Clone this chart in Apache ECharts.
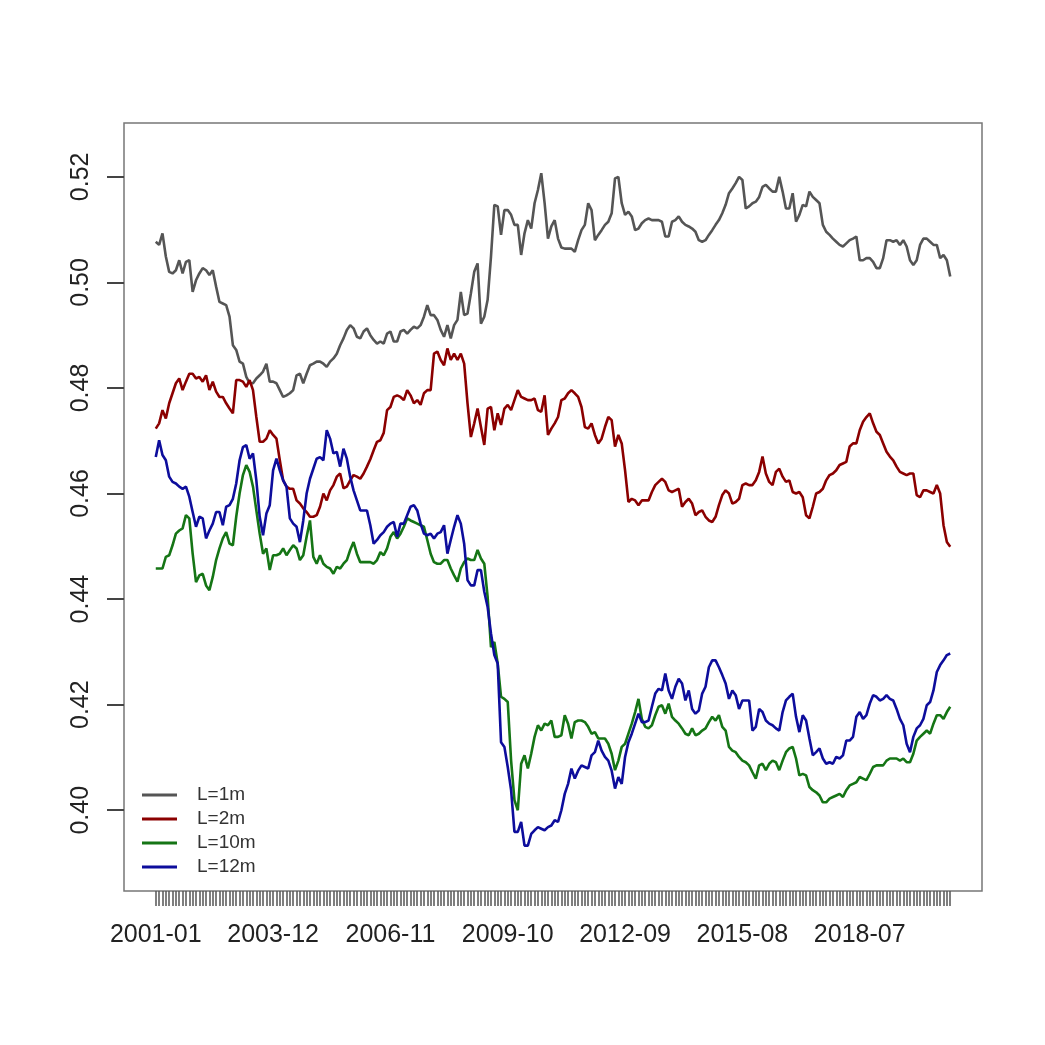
<!DOCTYPE html>
<html>
<head>
<meta charset="utf-8">
<script src="https://cdn.jsdelivr.net/npm/echarts@6/dist/echarts.min.js"></script>
<style>
html,body{margin:0;padding:0;background:#fff;}
#chart{width:1045px;height:1045px;}
</style>
</head>
<body>
<div id="chart"></div>
<script>
// Monthly categories 2001-01 .. 2020-10
const months = [];
for (let y = 2001; y <= 2020; y++) {
  for (let mo = 1; mo <= 12; mo++) {
    if (y === 2020 && mo > 10) break;
    months.push(y + '-' + (mo < 10 ? '0' + mo : '' + mo));
  }
}
const xTickLabels = ['2001-01','2003-12','2006-11','2009-10','2012-09','2015-08','2018-07'];
const yTickValues = [0.40, 0.42, 0.44, 0.46, 0.48, 0.50, 0.52];
const seriesNames = ['L=1m','L=2m','L=10m','L=12m'];

const L1 = [
.5077,.5071,.5093,.5049,.5020,.5017,.5023,.5042,.5017,.5039,
.5042,.4982,.5004,.5017,.5027,.5023,.5014,.5023,.4992,.4963,
.4960,.4957,.4935,.4881,.4872,.4850,.4846,.4821,.4809,.4809,
.4818,.4824,.4831,.4846,.4812,.4812,.4809,.4796,.4783,.4786,
.4790,.4796,.4824,.4827,.4809,.4827,.4843,.4846,.4850,.4850,
.4846,.4840,.4850,.4856,.4865,.4881,.4894,.4910,.4919,.4913,
.4897,.4894,.4907,.4913,.4900,.4891,.4884,.4888,.4884,.4903,
.4907,.4888,.4888,.4907,.4910,.4903,.4910,.4916,.4913,.4919,
.4935,.4957,.4938,.4938,.4929,.4910,.4897,.4919,.4894,.4919,
.4929,.4982,.4938,.4941,.4979,.5020,.5036,.4922,.4935,.4967,
.5049,.5147,.5144,.5090,.5137,.5137,.5128,.5109,.5109,.5052,
.5093,.5118,.5102,.5150,.5175,.5207,.5150,.5083,.5106,.5118,
.5083,.5066,.5064,.5064,.5064,.5058,.5080,.5099,.5109,.5150,
.5137,.5080,.5090,.5099,.5109,.5115,.5131,.5197,.5200,.5150,
.5128,.5134,.5125,.5099,.5102,.5112,.5118,.5121,.5118,.5118,
.5118,.5115,.5087,.5087,.5115,.5118,.5125,.5115,.5109,.5106,
.5102,.5096,.5080,.5077,.5080,.5090,.5099,.5109,.5118,.5131,
.5147,.5169,.5178,.5188,.5200,.5194,.5140,.5144,.5150,.5153,
.5162,.5181,.5185,.5178,.5172,.5172,.5200,.5172,.5140,.5140,
.5169,.5115,.5128,.5147,.5144,.5172,.5162,.5156,.5150,.5109,
.5096,.5090,.5083,.5077,.5071,.5068,.5074,.5080,.5083,.5087,
.5042,.5042,.5046,.5046,.5039,.5027,.5027,.5046,.5080,.5080,
.5077,.5080,.5071,.5080,.5068,.5042,.5033,.5042,.5071,.5083,
.5083,.5077,.5071,.5071,.5046,.5052,.5042,.5011
];
const L2 = [
.4723,.4733,.4758,.4742,.4771,.4790,.4809,.4818,.4796,.4812,
.4827,.4827,.4818,.4821,.4812,.4824,.4796,.4812,.4793,.4783,
.4783,.4771,.4761,.4752,.4815,.4815,.4812,.4802,.4815,.4796,
.4745,.4698,.4698,.4704,.4720,.4711,.4704,.4663,.4625,.4613,
.4609,.4609,.4587,.4581,.4572,.4565,.4556,.4556,.4559,.4575,
.4600,.4587,.4606,.4616,.4632,.4638,.4610,.4613,.4625,.4635,
.4632,.4628,.4638,.4651,.4665,.4682,.4698,.4701,.4715,.4758,
.4764,.4783,.4786,.4783,.4777,.4796,.4786,.4771,.4777,.4768,
.4790,.4796,.4796,.4865,.4869,.4853,.4843,.4875,.4853,.4865,
.4853,.4865,.4846,.4771,.4707,.4733,.4761,.4726,.4692,.4761,
.4764,.4720,.4752,.4730,.4761,.4768,.4758,.4777,.4796,.4783,
.4780,.4777,.4777,.4780,.4758,.4755,.4786,.4711,.4723,.4733,
.4745,.4777,.4780,.4790,.4796,.4790,.4783,.4764,.4726,.4723,
.4733,.4711,.4695,.4704,.4726,.4745,.4739,.4689,.4711,.4695,
.4644,.4584,.4590,.4587,.4578,.4587,.4587,.4587,.4603,.4616,
.4622,.4628,.4622,.4606,.4603,.4606,.4609,.4575,.4584,.4590,
.4581,.4559,.4565,.4568,.4556,.4549,.4546,.4556,.4578,.4597,
.4606,.4600,.4581,.4584,.4590,.4616,.4619,.4616,.4616,.4625,
.4641,.4670,.4638,.4622,.4616,.4641,.4647,.4632,.4622,.4625,
.4603,.4600,.4603,.4593,.4559,.4553,.4575,.4600,.4603,.4609,
.4625,.4635,.4638,.4644,.4654,.4657,.4660,.4689,.4695,.4695,
.4720,.4736,.4745,.4752,.4733,.4717,.4711,.4695,.4679,.4670,
.4663,.4651,.4641,.4638,.4635,.4638,.4638,.4597,.4593,.4606,
.4606,.4603,.4600,.4616,.4600,.4540,.4508,.4499
];
const L10 = [
.4458,.4458,.4458,.4480,.4483,.4502,.4524,.4530,.4534,.4559,
.4553,.4486,.4432,.4445,.4448,.4426,.4417,.4442,.4474,.4496,
.4515,.4527,.4505,.4502,.4556,.4600,.4635,.4654,.4641,.4613,
.4568,.4524,.4486,.4496,.4455,.4483,.4483,.4486,.4496,.4483,
.4493,.4502,.4496,.4474,.4483,.4518,.4549,.4480,.4467,.4483,
.4467,.4461,.4458,.4448,.4461,.4458,.4467,.4474,.4493,.4508,
.4486,.4470,.4470,.4470,.4470,.4467,.4474,.4489,.4483,.4496,
.4518,.4527,.4515,.4524,.4537,.4553,.4549,.4546,.4543,.4540,
.4537,.4512,.4486,.4470,.4467,.4467,.4474,.4474,.4458,.4445,
.4433,.4458,.4470,.4477,.4474,.4474,.4493,.4477,.4467,.4404,
.4309,.4319,.4278,.4215,.4211,.4205,.4094,.4019,.4000,.4088,
.4104,.4079,.4107,.4139,.4161,.4151,.4164,.4161,.4170,.4139,
.4139,.4142,.4180,.4164,.4136,.4167,.4170,.4170,.4167,.4158,
.4145,.4148,.4136,.4136,.4136,.4126,.4107,.4076,.4094,.4120,
.4126,.4145,.4164,.4186,.4211,.4173,.4158,.4155,.4161,.4180,
.4196,.4199,.4183,.4202,.4177,.4170,.4164,.4155,.4145,.4142,
.4155,.4142,.4145,.4151,.4155,.4167,.4177,.4170,.4180,.4158,
.4151,.4120,.4113,.4110,.4101,.4094,.4091,.4085,.4072,.4060,
.4085,.4088,.4076,.4088,.4094,.4091,.4076,.4094,.4110,.4117,
.4120,.4098,.4066,.4069,.4066,.4044,.4038,.4034,.4028,.4015,
.4015,.4022,.4025,.4028,.4031,.4025,.4038,.4047,.4050,.4053,
.4063,.4060,.4057,.4069,.4082,.4085,.4085,.4085,.4094,.4098,
.4098,.4098,.4094,.4098,.4091,.4091,.4107,.4132,.4139,.4145,
.4151,.4145,.4164,.4180,.4180,.4173,.4186,.4196
];
const L12 = [
.4669,.4701,.4673,.4663,.4632,.4622,.4619,.4613,.4609,.4613,
.4594,.4565,.4537,.4556,.4553,.4515,.4530,.4543,.4565,.4565,
.4540,.4575,.4578,.4590,.4619,.4663,.4688,.4692,.4666,.4676,
.4625,.4556,.4521,.4562,.4578,.4644,.4666,.4644,.4625,.4613,
.4553,.4543,.4537,.4508,.4549,.4600,.4628,.4647,.4666,.4669,
.4663,.4720,.4704,.4676,.4679,.4651,.4685,.4666,.4632,.4606,
.4587,.4568,.4568,.4568,.4540,.4505,.4512,.4521,.4527,.4537,
.4543,.4546,.4518,.4543,.4543,.4559,.4575,.4578,.4568,.4543,
.4524,.4521,.4524,.4515,.4524,.4527,.4540,.4486,.4512,.4537,
.4559,.4543,.4505,.4436,.4426,.4426,.4455,.4455,.4414,.4385,
.4335,.4294,.4278,.4129,.4120,.4082,.4038,.3959,.3959,.3978,
.3933,.3933,.3955,.3962,.3968,.3965,.3962,.3968,.3971,.3981,
.3978,.4000,.4031,.4050,.4079,.4060,.4075,.4085,.4082,.4079,
.4104,.4110,.4132,.4113,.4101,.4094,.4075,.4041,.4063,.4050,
.4101,.4129,.4145,.4164,.4183,.4167,.4167,.4170,.4196,.4221,
.4230,.4227,.4259,.4227,.4211,.4234,.4249,.4240,.4208,.4227,
.4192,.4183,.4189,.4221,.4234,.4271,.4284,.4284,.4271,.4256,
.4240,.4211,.4227,.4218,.4192,.4208,.4208,.4208,.4151,.4158,
.4192,.4186,.4170,.4164,.4161,.4155,.4151,.4186,.4208,.4215,
.4221,.4177,.4148,.4180,.4170,.4136,.4104,.4110,.4117,.4098,
.4088,.4091,.4088,.4101,.4098,.4104,.4132,.4132,.4139,.4177,
.4186,.4173,.4180,.4202,.4218,.4215,.4208,.4211,.4218,.4211,
.4208,.4192,.4173,.4161,.4126,.4110,.4139,.4155,.4161,.4173,
.4199,.4205,.4227,.4262,.4275,.4284,.4294,.4297
];

const colors = ['#555555', '#8b0000', '#157515', '#0d0d9c'];
const seriesValues = [L1, L2, L10, L12];

const chart = echarts.init(document.getElementById('chart'), null, {renderer: 'canvas'});
const xMin = -0.04 * (months.length - 1);
const xMax = (months.length - 1) * 1.04;
const tickIdx = months.map((m, i) => i);
const labelIdx = xTickLabels.map(l => months.indexOf(l));

chart.setOption({
  animation: false,
  backgroundColor: '#ffffff',
  color: colors,
  grid: {
    left: 124, right: 63, top: 123, bottom: 154,
    show: true, borderColor: '#777777', borderWidth: 1.5, backgroundColor: 'transparent'
  },
  legend: {
    orient: 'vertical',
    left: 142, top: 785,
    itemWidth: 35, itemHeight: 3, itemGap: 4,
    icon: 'rect',
    padding: 0,
    data: seriesNames,
    textStyle: {fontFamily: 'Liberation Sans, Arial', fontSize: 19, lineHeight: 20, color: '#333333', padding: [0, 0, 0, 15]}
  },
  xAxis: {
    type: 'value',
    min: xMin, max: xMax,
    axisLine: {show: false, onZero: false},
    splitLine: {show: false},
    axisTick: {show: true, length: 15, customValues: tickIdx, lineStyle: {color: '#555555', width: 1.5}},
    axisLabel: {
      customValues: labelIdx,
      formatter: v => months[Math.round(v)],
      margin: 32,
      fontFamily: 'Liberation Sans, Arial', fontSize: 25, color: '#222222'
    }
  },
  yAxis: {
    type: 'value',
    min: 0.3847, max: 0.5302,
    axisLine: {show: false, onZero: false},
    splitLine: {show: false},
    axisTick: {show: true, length: 17, customValues: yTickValues, lineStyle: {color: '#444444', width: 2}},
    axisLabel: {
      customValues: yTickValues,
      rotate: 90,
      formatter: v => v.toFixed(2),
      margin: 30,
      fontFamily: 'Liberation Sans, Arial', fontSize: 25, color: '#222222'
    }
  },
  series: seriesNames.map((name, k) => ({
    name: name,
    type: 'line',
    showSymbol: false,
    symbol: 'none',
    lineStyle: {width: 2.6, color: colors[k]},
    itemStyle: {color: colors[k]},
    data: seriesValues[k].map((v, i) => [i, v])
  }))
});
</script>
</body>
</html>
